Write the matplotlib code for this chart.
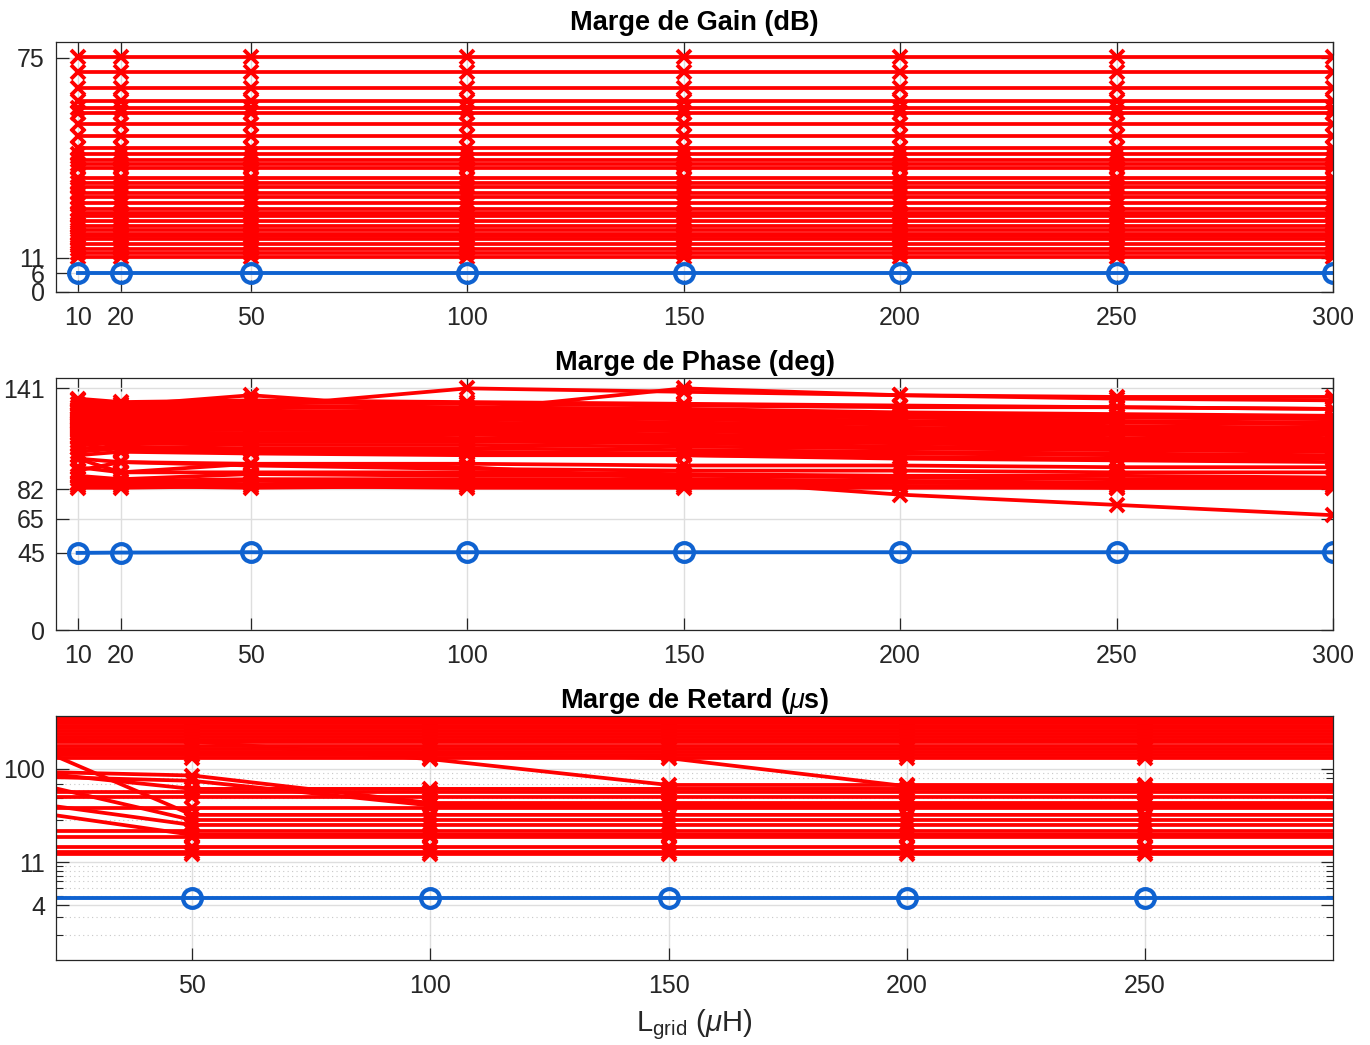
import numpy as np
import matplotlib
matplotlib.use("Agg")
from matplotlib import pyplot as plt
from matplotlib.ticker import FixedLocator, LogLocator, NullFormatter, ScalarFormatter

plt.rcParams['font.family'] = ['Liberation Sans', 'DejaVu Sans']
plt.rcParams['mathtext.fontset'] = 'custom'
plt.rcParams['mathtext.rm'] = 'Liberation Sans'
plt.rcParams['mathtext.it'] = 'Liberation Sans:italic'
plt.rcParams['mathtext.bf'] = 'Liberation Sans:bold'

# inductance values (uH)
L_grid = [10, 20, 50, 100, 150, 200, 250, 300]

# gain margin (dB) - red curves are flat over L_grid
gain_levels = [75.3, 70.3, 65.3, 61.1, 58.9, 57.3, 53.7, 49.9, 46.0, 44.2,
               42.3, 40.9, 39.7, 36.5, 34.9, 33.6, 31.7, 30.4, 28.6,
               26.5, 25.4, 24.4, 22.8, 21.2, 19.8, 18.6,
               18.0, 16.8, 15.4, 13.8, 12.6, 11.2]
gain_ref = [6.2, 6.2, 6.2, 6.2, 6.2, 6.2, 6.2, 6.2]

# phase margin (deg)
phase_series = [
    [134, 131, 137, 128, 127, 126, 125, 124],
    [128, 130, 130, 141, 139, 137, 136, 136],
    [126, 127, 126, 128, 141, 137, 135, 134],
    [100, 98, 97, 95, 88, 79, 73, 67],
    [135, 133, 134, 133, 132, 131, 130, 129],
    [132, 132, 133, 132, 131, 130, 130, 129],
    [130, 131, 131, 130, 129, 127, 126, 125],
    [129, 129, 130, 129, 128, 126, 125, 124],
    [127, 128, 128, 127, 126, 125, 124, 123],
    [126, 126, 127, 126, 125, 124, 122, 121],
    [125, 125, 126, 125, 124, 122, 121, 120],
    [124, 124, 124, 124, 123, 121, 119, 118],
    [123, 122, 123, 123, 121, 120, 118, 117],
    [122, 121, 122, 121, 120, 118, 117, 116],
    [121, 120, 121, 120, 119, 117, 116, 115],
    [120, 119, 120, 119, 118, 116, 115, 114],
    [119, 118, 119, 118, 117, 115, 114, 112],
    [118, 117, 118, 117, 116, 114, 112, 111],
    [117, 116, 117, 116, 114, 113, 111, 110],
    [116, 115, 115, 115, 113, 112, 110, 109],
    [115, 114, 114, 114, 112, 111, 109, 108],
    [113, 113, 113, 112, 111, 110, 108, 107],
    [112, 111, 112, 111, 110, 109, 107, 106],
    [110, 110, 110, 110, 109, 107, 106, 105],
    [108, 109, 108, 108, 107, 106, 105, 104],
    [106, 107, 106, 106, 105, 104, 103, 102],
    [104, 106, 105, 104, 103, 103, 102, 101],
    [102, 104, 103, 102, 102, 101, 100, 100],
    [115, 105, 104, 103, 102, 100, 99, 98],
    [100, 92, 97, 97, 96, 96, 95, 95],
    [93, 98, 96, 94, 93, 93, 92, 92],
    [95, 92, 92, 92, 91, 90, 90, 89],
    [90, 88, 91, 90, 90, 89, 88, 88],
    [88, 87, 88, 88, 88, 87, 86, 86],
    [86, 86, 87, 86, 86, 86, 85, 85],
    [85, 85, 85, 85, 85, 84, 84, 84],
    [83, 83, 84, 83, 83, 83, 83, 83],
    [84, 84, 83, 84, 84, 84, 83, 83],
]
phase_ref = [45.0, 45.2, 45.4, 45.4, 45.4, 45.4, 45.4, 45.4]

# delay margin (us), log axis
delay_levels = [338, 322, 305, 290, 272, 258, 240, 226, 212, 198, 186,
                172, 160, 148, 138, 128,
                57.6, 51.2, 39.6, 23.0, 20.0, 15.8, 14.1, 13.4]
delay_series = [
    [150, 143, 33.6, 33.6, 33.6, 33.6, 33.6, 33.6],
    [70, 65, 29.8, 29.8, 29.8, 29.8, 29.8, 29.8],
    [45, 42, 26.5, 26.5, 26.5, 26.5, 26.5, 26.5],
    [95, 92, 85, 44.5, 44.5, 44.5, 44.5, 44.5],
    [85, 82, 75, 42, 42, 42, 42, 42],
    [200, 195, 190, 125, 68, 68, 68, 68],
    [150, 148, 146, 145, 128, 66, 66, 66],
    [90, 88, 62, 62, 62, 62, 62, 62],
    [35, 34, 21, 21, 21, 21, 21, 21],
]
delay_ref = [4.75, 4.75, 4.75, 4.75, 4.75, 4.75, 4.75, 4.75]

red = '#ff0000'
blue = '#0f62d0'
axc = '#262626'
gridc = '#dedede'

red_kw = dict(color=red, lw=2.7, marker='x', ms=10, mew=2.8)
blue_kw = dict(color=blue, lw=2.8, marker='o', ms=13.5, mew=3, mfc='none')

fig = plt.figure(figsize=(13.7, 10.45), dpi=100)
ax1 = fig.add_axes([0.0409, 0.7206, 0.9321, 0.2392])
ax2 = fig.add_axes([0.0409, 0.3971, 0.9321, 0.2411])
ax3 = fig.add_axes([0.0409, 0.0813, 0.9321, 0.2335])


def style(ax):
    for s in ax.spines.values():
        s.set_color(axc)
        s.set_linewidth(0.9)
    ax.tick_params(which='major', direction='in', top=True, right=True,
                   length=9, width=0.9, color=axc, labelcolor=axc,
                   labelsize=18, pad=10)
    ax.tick_params(which='minor', direction='in', top=True, right=True,
                   length=5, width=0.8, color=axc)
    ax.tick_params(axis='y', which='major', pad=8)
    ax.grid(True, which='major', color=gridc, lw=1.0)


# gain
for g in gain_levels:
    ax1.plot(L_grid, [g] * len(L_grid), **red_kw)
ax1.plot(L_grid, gain_ref, **blue_kw)
ax1.set_xlim(5, 300)
ax1.set_ylim(0, 80)
ax1.set_xticks(L_grid)
ax1.set_yticks([0, 6, 11, 75])
ax1.set_title('Marge de Gain (dB)', fontsize=19.5, fontweight='bold', pad=9)
style(ax1)

# phase
for p in phase_series:
    ax2.plot(L_grid, p, **red_kw)
ax2.plot(L_grid, phase_ref, **blue_kw)
ax2.set_xlim(5, 300)
ax2.set_ylim(0, 147)
ax2.set_xticks(L_grid)
ax2.set_yticks([0, 45, 65, 82, 141])
ax2.set_title('Marge de Phase (deg)', fontsize=19.5, fontweight='bold', pad=6)
style(ax2)

# delay (markers only where L is inside the shown range)
vis = slice(2, 7)
for d in delay_levels:
    ax3.plot(L_grid, [d] * len(L_grid), markevery=vis, **red_kw)
for d in delay_series:
    ax3.plot(L_grid, d, markevery=vis, **red_kw)
ax3.plot(L_grid, delay_ref, markevery=vis, **blue_kw)
ax3.set_yscale('log')
ax3.set_xlim(21.4, 289.5)
ax3.set_ylim(1.1, 345)
ax3.set_xticks([50, 100, 150, 200, 250])
ax3.yaxis.set_major_locator(FixedLocator([4, 11, 100]))
ax3.yaxis.set_major_formatter(ScalarFormatter())
ax3.yaxis.set_minor_locator(LogLocator(base=10, subs=range(1, 10), numticks=20))
ax3.yaxis.set_minor_formatter(NullFormatter())
ax3.set_title(r'Marge de Retard ($\mu$s)', fontsize=19.5, fontweight='bold', pad=6)
style(ax3)
ax3.grid(True, which='minor', axis='y', color='#c8c8c8', lw=0.8, ls=(0, (1, 3)))
ax3.set_xlabel(r'L$_{\rm grid}$ ($\mu$H)', fontsize=21, color=axc, labelpad=7)

fig.savefig('out.png', dpi=100)
